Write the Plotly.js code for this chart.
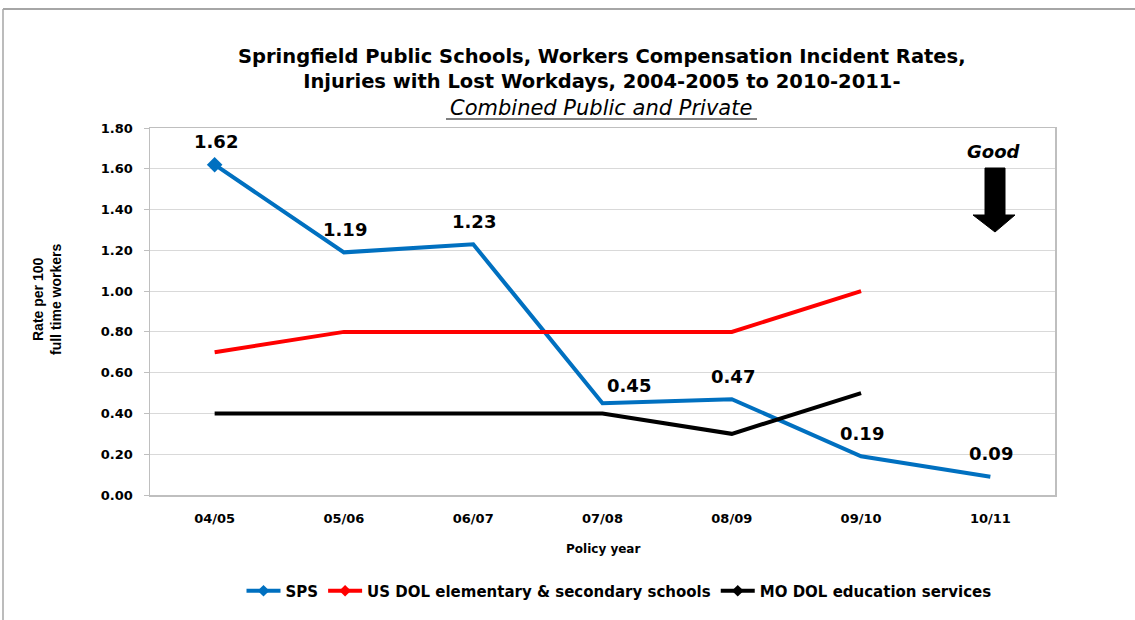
<!DOCTYPE html>
<html>
<head>
<meta charset="utf-8">
<script src="https://cdn.plot.ly/plotly-3.0.1.min.js"></script>
<style>html,body{margin:0;padding:0;background:#fff;}#chart{width:1135px;height:620px;}</style>
</head>
<body>
<div id="chart"></div>
<script>
var categories = ["04/05", "05/06", "06/07", "07/08", "08/09", "09/10", "10/11"];
var spsValues = [1.62, 1.19, 1.23, 0.45, 0.47, 0.19, 0.09];
var usDolValues = [0.70, 0.80, 0.80, 0.80, 0.80, 1.00, null];
var moDolValues = [0.40, 0.40, 0.40, 0.40, 0.30, 0.50, null];
var spsLabels = ["1.62", "1.19", "1.23", "0.45", "0.47", "0.19", "0.09"];
var seriesNames = ["SPS", "US DOL elementary & secondary schools", "MO DOL education services"];
var titleLines = [
  "Springfield Public Schools, Workers Compensation Incident Rates,",
  "Injuries with Lost Workdays, 2004-2005 to 2010-2011-",
  "Combined Public and Private"
];

var W = 1135, H = 620;
var L = 150, R = 1055, T = 128, B = 495;
function px(x) { return (x - L) / (R - L); }
function py(y) { return (B - y) / (B - T); }

var colors = ["#0070C0", "#FF0000", "#000000"];
var bold = "DejaVu Sans, Verdana, sans-serif";

var traces = [
  {x: categories, y: spsValues, mode: "lines+markers", line: {color: colors[0], width: 4},
   marker: {symbol: "diamond", size: 12, color: colors[0], opacity: spsValues.map(function(v, i){ return i === 0 ? 1 : 0; })},
   showlegend: false, hoverinfo: "skip"},
  {x: categories, y: usDolValues, mode: "lines", line: {color: colors[1], width: 4}, showlegend: false, hoverinfo: "skip"},
  {x: categories, y: moDolValues, mode: "lines", line: {color: colors[2], width: 4}, showlegend: false, hoverinfo: "skip"}
];
seriesNames.forEach(function(n, i) {
  traces.push({x: [null], y: [null], name: n, mode: "lines+markers",
    line: {color: colors[i], width: 4}, marker: {symbol: "diamond", size: 9, color: colors[i]}, showlegend: true});
});

function note(x, y, text, font, extra) {
  var a = {x: px(x), y: py(y), xref: "paper", yref: "paper", xanchor: "center", yanchor: "middle",
    text: text, showarrow: false, font: font};
  for (var k in (extra || {})) a[k] = extra[k];
  return a;
}

var annotations = [];
categories.forEach(function(c, i) {
  var xs = (i === 3) ? 26 : 1;
  var ys = (i === 3) ? 18 : 23;
  annotations.push({x: c, y: spsValues[i], xref: "x", yref: "y", xanchor: "center", yanchor: "middle",
    text: "<b>" + spsLabels[i] + "</b>", showarrow: false, yshift: ys, xshift: xs,
    font: {family: bold, size: 18, color: "#000"}});
});
annotations.push(note(602, 69, "<b>" + titleLines[0] + "</b><br><b>" + titleLines[1] + "</b>",
  {family: bold, size: 19.5, color: "#000"}));
annotations.push(note(601, 108.5, "<i>" + titleLines[2] + "</i>", {family: bold, size: 21, color: "#000"}));
annotations.push(note(47, 300, "<b>Rate per 100<br>full time workers</b>",
  {family: "Liberation Sans Narrow, Liberation Sans, sans-serif", size: 14, color: "#000"}, {textangle: -90}));
annotations.push(note(603, 549, "<b>Policy year</b>", {family: bold, size: 12, color: "#000"}));
annotations.push(note(994, 151, "<b><i>Good</i></b>", {family: bold, size: 18, color: "#000"}));

function pt(x, y) { return px(x) + "," + py(y); }
var shapes = [
  {type: "line", xref: "paper", yref: "paper", x0: px(3), x1: px(1135), y0: py(9), y1: py(9), line: {color: "#a6a6a6", width: 2}},
  {type: "line", xref: "paper", yref: "paper", x0: px(3), x1: px(3), y0: py(9), y1: py(620), line: {color: "#a6a6a6", width: 1.5}},
  {type: "path", xref: "paper", yref: "paper",
   path: "M" + pt(985, 168) + " L" + pt(1005, 168) + " L" + pt(1005, 215) + " L" + pt(1015, 215) + " L" + pt(995, 232) +
         " L" + pt(973, 215) + " L" + pt(985, 215) + " Z",
   fillcolor: "#000", line: {color: "#000", width: 1}},
  {type: "line", xref: "paper", yref: "paper", x0: px(446), x1: px(757), y0: py(119), y1: py(119), line: {color: "#000", width: 1}}
];

var layout = {
  width: W, height: H,
  margin: {l: L, r: W - R, t: T, b: H - B, pad: 0},
  paper_bgcolor: "#fff", plot_bgcolor: "#fff",
  showlegend: true,
  legend: {orientation: "h", x: px(619), xanchor: "center", y: py(591), yanchor: "middle",
    font: {family: bold, size: 15, color: "#000", weight: "bold"}, itemwidth: 34, traceorder: "normal"},
  xaxis: {type: "category", range: [-0.5, 6.5], showgrid: false, showline: true, linecolor: "#bfbfbf", linewidth: 1.5,
    mirror: true, ticks: "", ticklabelstandoff: 11, tickfont: {family: bold, size: 13, color: "#000", weight: "bold"}, fixedrange: true},
  yaxis: {range: [0, 1.8], dtick: 0.2, tickformat: ".2f", showgrid: true, gridcolor: "#d9d9d9", gridwidth: 1,
    showline: true, linecolor: "#bfbfbf", linewidth: 1.5, mirror: true, ticks: "outside", ticklen: 5, tickcolor: "#bfbfbf",
    ticklabelstandoff: 8, tickfont: {family: bold, size: 13, color: "#000", weight: "bold"}, zeroline: false, fixedrange: true},
  annotations: annotations,
  shapes: shapes
};

Plotly.newPlot("chart", traces, layout, {displayModeBar: false, staticPlot: true});
</script>
</body>
</html>
